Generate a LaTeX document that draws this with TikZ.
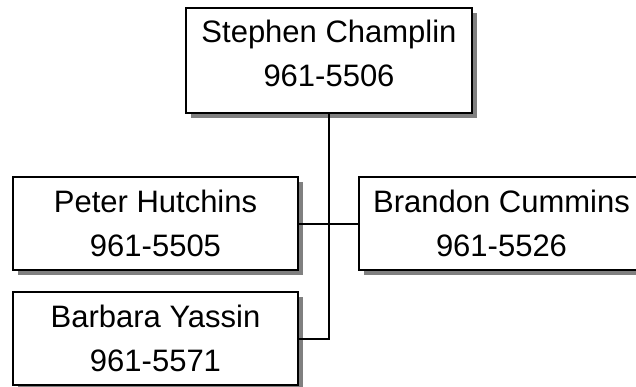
\documentclass[tikz,border=0pt]{standalone}
\usepackage{fontspec}
\setmainfont{Liberation Sans}
\usetikzlibrary{shadows}
\tikzset{
  person/.style={draw=black, line width=2pt, fill=white, rectangle,
    minimum width=285pt, minimum height=93pt, inner sep=0pt, align=center,
    font=\fontsize{31}{44}\selectfont,
    drop shadow={shadow xshift=5pt, shadow yshift=-5pt, fill=black!50, opacity=1}},
  link/.style={draw=black, line width=2pt}
}
\begin{document}
\begin{tikzpicture}[x=1pt,y=-1pt]
\useasboundingbox (0,0) rectangle (636,386);
\clip (0,0) rectangle (636,386);
\node[person, minimum width=286pt, minimum height=105pt, text depth=14pt] (sc) at (329,60.5) {Stephen Champlin\\961-5506};
\node[person] (ph) at (155.5,223.5) {Peter Hutchins\\961-5505};
\node[person, minimum height=93pt] (by) at (155.5,338.5) {Barbara Yassin\\961-5571};
\node[person] (bc) at (501.5,223.5) {Brandon Cummins\\961-5526};
\coordinate (j) at (sc.south |- by.east);
\draw[link] (sc.south) -- (j) -- (by.east);
\draw[link] (ph.east) -- (bc.west);
\end{tikzpicture}
\end{document}
